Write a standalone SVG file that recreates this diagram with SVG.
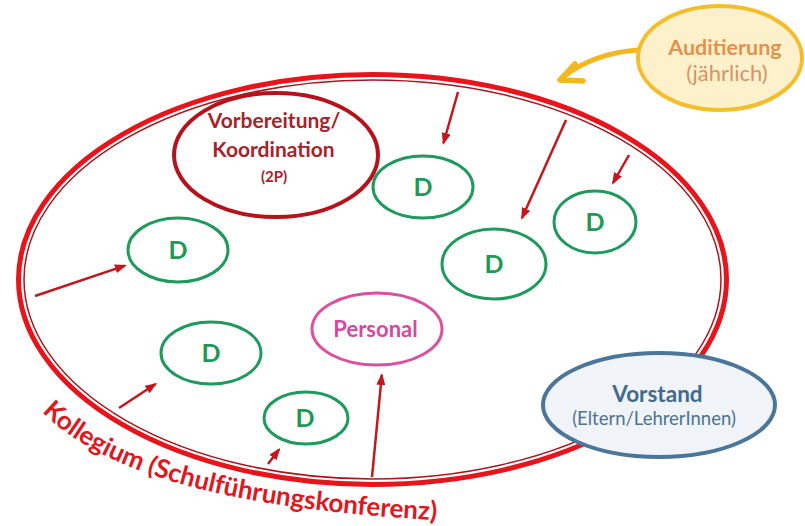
<svg xmlns="http://www.w3.org/2000/svg" width="805" height="526" viewBox="0 0 805 526">
  <style>
    text { font-family: Lato, "Open Sans", "Liberation Sans", sans-serif; text-anchor: middle; }
    .b { font-weight: bold; }
    .d-node ellipse { fill: none; stroke: #1f9a5c; stroke-width: 3; }
    .d-node text { fill: #1e9a56; font-size: 25px; font-weight: bold; }
    .arrow { stroke: #c4161c; stroke-width: 2.5; fill: none; marker-end: url(#ah); }
  </style>
  <defs>
    <marker id="ah" markerUnits="userSpaceOnUse" markerWidth="12" markerHeight="10" refX="10" refY="4.5" orient="auto">
      <path d="M0,0 L12,4.5 L0,9 z" fill="#c4161c"/>
    </marker>
    <path id="kollegium-path" d="M 42 412 C 118 488, 280 512, 450 521"/>
  </defs>

  <rect width="805" height="526" fill="#ffffff"/>

  <!-- Kollegium: double red ring -->
  <g id="kollegium">
    <ellipse cx="372.5" cy="279.5" rx="354" ry="205" fill="none" stroke="#e8141c" stroke-width="5"/>
    <ellipse cx="372.5" cy="279.5" rx="348.5" ry="199.5" fill="none" stroke="#a8161e" stroke-width="1.5"/>
    <text class="b" font-size="26" fill="#e3151d" style="text-anchor:start"><textPath href="#kollegium-path">Kollegium (Schulführungskonferenz)</textPath></text>
  </g>

  <!-- connectors -->
  <g id="connectors">
    <line class="arrow" x1="35" y1="296" x2="125" y2="265.6"/>
    <line class="arrow" x1="458" y1="92" x2="443.5" y2="143"/>
    <line class="arrow" x1="566" y1="120" x2="522" y2="218"/>
    <line class="arrow" x1="629" y1="155" x2="613" y2="183"/>
    <line class="arrow" x1="119" y1="408" x2="155.5" y2="384"/>
    <line class="arrow" x1="268" y1="464" x2="279" y2="449.5"/>
    <line class="arrow" x1="372" y1="477" x2="381.8" y2="375"/>
    <!-- Auditierung feedback arrow -->
    <path d="M 638 50 C 610 52, 585 60, 563 77" fill="none" stroke="#f3b71f" stroke-width="5" stroke-linecap="round"/>
    <polyline points="575,64 560,80 583,81" fill="none" stroke="#f3b71f" stroke-width="5.5" stroke-linecap="round" stroke-linejoin="round"/>
  </g>

  <g id="auditierung">
    <ellipse cx="720" cy="58" rx="82" ry="52" fill="#fdf1cc" stroke="#f4be2b" stroke-width="4"/>
    <text class="b" x="725" y="55" font-size="21.5" fill="#e4914b">Auditierung</text>
    <text x="727" y="81" font-size="22" fill="#d99262">(jährlich)</text>
  </g>

  <g id="vorbereitung">
    <ellipse cx="276" cy="155" rx="102" ry="62" fill="none" stroke="#b5121b" stroke-width="4"/>
    <text class="b" x="274" y="128" font-size="21" fill="#a8222a">Vorbereitung/</text>
    <text class="b" x="273.5" y="157" font-size="21" fill="#a8222a">Koordination</text>
    <text class="b" x="274" y="182" font-size="15" fill="#a8222a">(2P)</text>
  </g>

  <g id="d1" class="d-node">
    <ellipse cx="178" cy="250" rx="50" ry="32"/>
    <text x="178" y="259">D</text>
  </g>
  <g id="d2" class="d-node">
    <ellipse cx="423" cy="187" rx="50" ry="31"/>
    <text x="423" y="196">D</text>
  </g>
  <g id="d3" class="d-node">
    <ellipse cx="494" cy="264" rx="52" ry="35"/>
    <text x="494" y="273">D</text>
  </g>
  <g id="d4" class="d-node">
    <ellipse cx="595" cy="222" rx="41" ry="31"/>
    <text x="595" y="231">D</text>
  </g>
  <g id="d5" class="d-node">
    <ellipse cx="211" cy="353" rx="50" ry="31"/>
    <text x="211" y="362">D</text>
  </g>
  <g id="d6" class="d-node">
    <ellipse cx="306" cy="418" rx="42" ry="26"/>
    <text x="305" y="427">D</text>
  </g>

  <g id="personal">
    <ellipse cx="377" cy="329" rx="65" ry="36" fill="none" stroke="#d9519f" stroke-width="3"/>
    <text class="b" x="375.5" y="337" font-size="22" fill="#d44aa0">Personal</text>
  </g>

  <g id="vorstand">
    <ellipse cx="659" cy="405" rx="116" ry="52" fill="#f0f4f8" stroke="#4b7699" stroke-width="4"/>
    <text class="b" x="657.5" y="402" font-size="22.5" fill="#416a8c">Vorstand</text>
    <text x="654" y="425" font-size="18.5" fill="#4d7292">(Eltern/LehrerInnen)</text>
  </g>
</svg>
